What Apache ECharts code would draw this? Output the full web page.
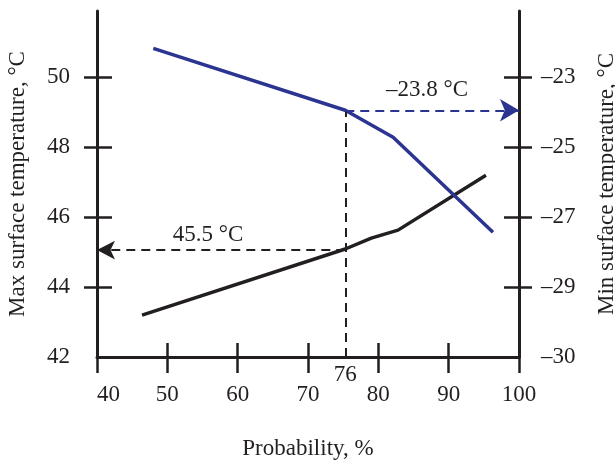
<!DOCTYPE html>
<html><head><meta charset="utf-8">
<script src="https://cdn.jsdelivr.net/npm/echarts@6/dist/echarts.min.js"></script>
<style>html,body{margin:0;padding:0;background:#fff}#c{width:615px;height:460px}</style>
</head><body><div id="c"></div>
<script>
// Max surface temperature (left axis, °C) vs probability (%)
const maxTempData = [[46.4, 43.2], [75.3, 45.09], [79.0, 45.4], [82.8, 45.63], [95.3, 47.2]];
// Min surface temperature (right axis, °C) vs probability (%)
const minTempData = [[48.0, -22.17], [75.3, -23.94], [82.1, -24.71], [96.3, -27.43]];

const xTicks = [40, 50, 60, 70, 80, 90, 100];
const leftLabelValues = [42, 44, 46, 48, 50];
const leftTickValues = [44, 46, 48, 50];
const rightLabelValues = [-31, -29, -27, -25, -23];
const rightLabelTexts = ['–30', '–29', '–27', '–25', '–23'];
const rightTickValues = [-29, -27, -25, -23];

// annotations
const probMark = 75.3, probMarkText = '76';
const maxMarkY = 45.06, maxMarkText = '45.5 °C';
const minMarkY = -23.94, minMarkText = '–23.8 °C';
const blueKneeLeftY = 49.06;

const INK = '#231f20', BLUE = '#2b3491';
const FONT = 'Liberation Serif';
const FS = 23;

const chart = echarts.init(document.getElementById('c'));
const yLeft = {min: 42, max: 51.9}, yRight = {min: -31, max: -21.1};
const common = {splitLine: {show: false}};
chart.setOption({
  animation: false,
  textStyle: {fontFamily: FONT, color: INK},
  grid: {left: 97, right: 96, top: 11, bottom: 103, outerBoundsMode: 'none', containLabel: false},
  xAxis: [
    {type: 'value', min: 40, max: 100, interval: 10, position: 'bottom', ...common,
     name: 'Probability, %', nameLocation: 'middle', nameGap: 80,
     nameTextStyle: {fontFamily: FONT, fontSize: FS, color: INK},
     axisLine: {lineStyle: {color: INK, width: 3}},
     axisTick: {inside: false, length: 16, lineStyle: {color: INK, width: 2.5}, customValues: xTicks},
     axisLabel: {fontFamily: FONT, fontSize: FS, color: INK, margin: 26, alignMinLabel: 'left', customValues: xTicks}},
    {type: 'value', min: 40, max: 100, interval: 10, position: 'bottom', ...common,
     axisLine: {show: false},
     axisTick: {inside: true, length: 14, lineStyle: {color: INK, width: 2.5}, customValues: xTicks.slice(1, -1)},
     axisLabel: {show: false}}
  ],
  yAxis: [
    {type: 'value', ...yLeft, position: 'left', ...common,
     name: 'Max surface temperature, °C', nameLocation: 'middle', nameGap: 68, nameRotate: 90,
     nameTextStyle: {fontFamily: FONT, fontSize: FS, color: INK},
     axisLine: {show: true, lineStyle: {color: INK, width: 3}},
     axisTick: {show: true, inside: false, length: 13, lineStyle: {color: INK, width: 2.5}, customValues: leftTickValues},
     axisLabel: {fontFamily: FONT, fontSize: FS, color: INK, margin: 27, customValues: leftLabelValues}},
    {type: 'value', ...yRight, position: 'right', ...common,
     name: 'Min surface temperature, °C', nameLocation: 'middle', nameGap: 76, nameRotate: 90,
     nameTextStyle: {fontFamily: FONT, fontSize: FS, color: INK},
     axisLine: {show: true, lineStyle: {color: INK, width: 3}},
     axisTick: {show: true, inside: false, length: 13, lineStyle: {color: INK, width: 2.5}, customValues: rightTickValues},
     axisLabel: {fontFamily: FONT, fontSize: FS, color: INK, margin: 22, customValues: rightLabelValues,
       formatter: v => rightLabelTexts[rightLabelValues.indexOf(v)] ?? ''}},
    {type: 'value', ...yLeft, position: 'left', ...common,
     axisLine: {show: false},
     axisTick: {show: true, inside: true, length: 15, lineStyle: {color: INK, width: 2.5}, customValues: leftTickValues},
     axisLabel: {show: false}},
    {type: 'value', ...yRight, position: 'right', ...common,
     axisLine: {show: false},
     axisTick: {show: true, inside: true, length: 15, lineStyle: {color: INK, width: 2.5}, customValues: rightTickValues},
     axisLabel: {show: false}}
  ],
  series: [
    {type: 'line', xAxisIndex: 0, yAxisIndex: 0, data: maxTempData, showSymbol: false, symbol: 'none',
     lineStyle: {color: INK, width: 3.5}, z: 3,
     markLine: {
       silent: true, animation: false,
       data: [
         [{coord: [probMark, maxMarkY], symbol: 'none'},
          {coord: [40, maxMarkY], symbol: 'arrow', symbolSize: [14, 18],
           label: {show: true, formatter: maxMarkText, padding: [0, 26, 0, 0]}}],
         [{coord: [probMark, 42], symbol: 'none'},
          {coord: [probMark, blueKneeLeftY], symbol: 'none', label: {show: false}}]
       ],
       lineStyle: {color: INK, width: 2, type: [9, 6]},
       label: {show: true, position: 'insideMiddleTop', distance: 4, fontFamily: FONT, fontSize: FS, color: INK}
     }},
    {type: 'line', xAxisIndex: 0, yAxisIndex: 1, data: minTempData, showSymbol: false, symbol: 'none',
     lineStyle: {color: BLUE, width: 3.5}, z: 3,
     markLine: {
       silent: true, animation: false,
       data: [
         [{coord: [probMark, minMarkY], symbol: 'none'},
          {coord: [100, minMarkY], symbol: 'arrow', symbolSize: [17, 19]}]
       ],
       lineStyle: {color: BLUE, width: 2, type: [9, 6]},
       itemStyle: {color: BLUE},
       label: {show: true, formatter: minMarkText, position: 'insideMiddleTop', distance: 9, padding: [0, 10, 0, 0],
               fontFamily: FONT, fontSize: FS, color: INK}
     }},
    {type: 'scatter', xAxisIndex: 0, yAxisIndex: 0, data: [[probMark, 42]], symbolSize: 0, silent: true,
     itemStyle: {opacity: 1},
     label: {show: true, formatter: probMarkText, position: 'bottom', distance: 6, fontFamily: FONT, fontSize: FS, color: INK}}
  ]
});
</script></body></html>
